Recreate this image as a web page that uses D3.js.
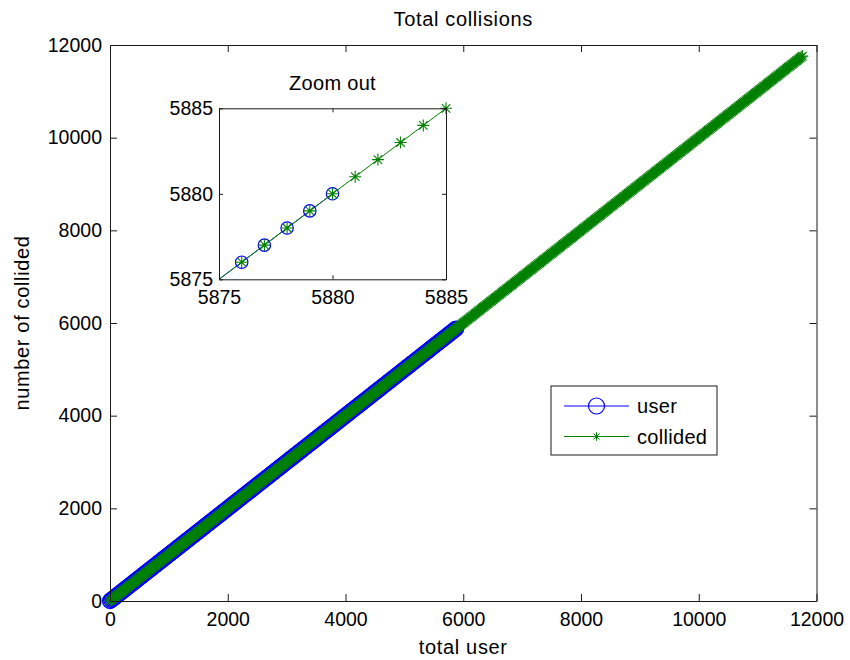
<!DOCTYPE html>
<html>
<head>
<meta charset="utf-8">
<script src="https://cdn.jsdelivr.net/npm/d3@7"></script>
<style>
  body { margin: 0; background: #fff; }
  svg { display: block; }
  text { font-family: "Liberation Sans", Arial, Helvetica, sans-serif; fill: #000; }
  .label { font-size: 20px; letter-spacing: 0.65px; }
</style>
</head>
<body>
<svg id="chart" width="850" height="660"></svg>
<script>
// ---- data ----
const chartTitle = "Total collisions";
const insetTitle = "Zoom out";
const xLabel = "total user";
const yLabel = "number of collided";
const seriesNames = ["user", "collided"];
const mainTicks = [0, 2000, 4000, 6000, 8000, 10000, 12000];
const insetTicks = [5875, 5880, 5885];

// Each run records the number of users and how many of them collided;
// every collected point has collided == total, so a count is plotted against itself.
const userCounts = [
  0,20,40,60,80,100,120,140,160,180,200,220,240,260,280,300,320,340,360,380,
  400,420,440,460,480,500,520,540,560,580,600,620,640,660,680,700,720,740,760,780,
  800,820,840,860,880,900,920,940,960,980,1000,1020,1040,1060,1080,1100,1120,1140,1160,1180,
  1200,1220,1240,1260,1280,1300,1320,1340,1360,1380,1400,1420,1440,1460,1480,1500,1520,1540,1560,1580,
  1600,1620,1640,1660,1680,1700,1720,1740,1760,1780,1800,1820,1840,1860,1880,1900,1920,1940,1960,1980,
  2000,2020,2040,2060,2080,2100,2120,2140,2160,2180,2200,2220,2240,2260,2280,2300,2320,2340,2360,2380,
  2400,2420,2440,2460,2480,2500,2520,2540,2560,2580,2600,2620,2640,2660,2680,2700,2720,2740,2760,2780,
  2800,2820,2840,2860,2880,2900,2920,2940,2960,2980,3000,3020,3040,3060,3080,3100,3120,3140,3160,3180,
  3200,3220,3240,3260,3280,3300,3320,3340,3360,3380,3400,3420,3440,3460,3480,3500,3520,3540,3560,3580,
  3600,3620,3640,3660,3680,3700,3720,3740,3760,3780,3800,3820,3840,3860,3880,3900,3920,3940,3960,3980,
  4000,4020,4040,4060,4080,4100,4120,4140,4160,4180,4200,4220,4240,4260,4280,4300,4320,4340,4360,4380,
  4400,4420,4440,4460,4480,4500,4520,4540,4560,4580,4600,4620,4640,4660,4680,4700,4720,4740,4760,4780,
  4800,4820,4840,4860,4880,4900,4920,4940,4960,4980,5000,5020,5040,5060,5080,5100,5120,5140,5160,5180,
  5200,5220,5240,5260,5280,5300,5320,5340,5360,5380,5400,5420,5440,5460,5480,5500,5520,5540,5560,5580,
  5600,5620,5640,5660,5680,5700,5720,5740,5760,5780,5800,5820,5840,5860,5880
];
const collidedCounts = [
  0,20,40,60,80,100,120,140,160,180,200,220,240,260,280,300,320,340,360,380,
  400,420,440,460,480,500,520,540,560,580,600,620,640,660,680,700,720,740,760,780,
  800,820,840,860,880,900,920,940,960,980,1000,1020,1040,1060,1080,1100,1120,1140,1160,1180,
  1200,1220,1240,1260,1280,1300,1320,1340,1360,1380,1400,1420,1440,1460,1480,1500,1520,1540,1560,1580,
  1600,1620,1640,1660,1680,1700,1720,1740,1760,1780,1800,1820,1840,1860,1880,1900,1920,1940,1960,1980,
  2000,2020,2040,2060,2080,2100,2120,2140,2160,2180,2200,2220,2240,2260,2280,2300,2320,2340,2360,2380,
  2400,2420,2440,2460,2480,2500,2520,2540,2560,2580,2600,2620,2640,2660,2680,2700,2720,2740,2760,2780,
  2800,2820,2840,2860,2880,2900,2920,2940,2960,2980,3000,3020,3040,3060,3080,3100,3120,3140,3160,3180,
  3200,3220,3240,3260,3280,3300,3320,3340,3360,3380,3400,3420,3440,3460,3480,3500,3520,3540,3560,3580,
  3600,3620,3640,3660,3680,3700,3720,3740,3760,3780,3800,3820,3840,3860,3880,3900,3920,3940,3960,3980,
  4000,4020,4040,4060,4080,4100,4120,4140,4160,4180,4200,4220,4240,4260,4280,4300,4320,4340,4360,4380,
  4400,4420,4440,4460,4480,4500,4520,4540,4560,4580,4600,4620,4640,4660,4680,4700,4720,4740,4760,4780,
  4800,4820,4840,4860,4880,4900,4920,4940,4960,4980,5000,5020,5040,5060,5080,5100,5120,5140,5160,5180,
  5200,5220,5240,5260,5280,5300,5320,5340,5360,5380,5400,5420,5440,5460,5480,5500,5520,5540,5560,5580,
  5600,5620,5640,5660,5680,5700,5720,5740,5760,5780,5800,5820,5840,5860,5880,5900,5920,5940,5960,5980,
  6000,6020,6040,6060,6080,6100,6120,6140,6160,6180,6200,6220,6240,6260,6280,6300,6320,6340,6360,6380,
  6400,6420,6440,6460,6480,6500,6520,6540,6560,6580,6600,6620,6640,6660,6680,6700,6720,6740,6760,6780,
  6800,6820,6840,6860,6880,6900,6920,6940,6960,6980,7000,7020,7040,7060,7080,7100,7120,7140,7160,7180,
  7200,7220,7240,7260,7280,7300,7320,7340,7360,7380,7400,7420,7440,7460,7480,7500,7520,7540,7560,7580,
  7600,7620,7640,7660,7680,7700,7720,7740,7760,7780,7800,7820,7840,7860,7880,7900,7920,7940,7960,7980,
  8000,8020,8040,8060,8080,8100,8120,8140,8160,8180,8200,8220,8240,8260,8280,8300,8320,8340,8360,8380,
  8400,8420,8440,8460,8480,8500,8520,8540,8560,8580,8600,8620,8640,8660,8680,8700,8720,8740,8760,8780,
  8800,8820,8840,8860,8880,8900,8920,8940,8960,8980,9000,9020,9040,9060,9080,9100,9120,9140,9160,9180,
  9200,9220,9240,9260,9280,9300,9320,9340,9360,9380,9400,9420,9440,9460,9480,9500,9520,9540,9560,9580,
  9600,9620,9640,9660,9680,9700,9720,9740,9760,9780,9800,9820,9840,9860,9880,9900,9920,9940,9960,9980,
  10000,10020,10040,10060,10080,10100,10120,10140,10160,10180,10200,10220,10240,10260,10280,10300,10320,10340,10360,10380,
  10400,10420,10440,10460,10480,10500,10520,10540,10560,10580,10600,10620,10640,10660,10680,10700,10720,10740,10760,10780,
  10800,10820,10840,10860,10880,10900,10920,10940,10960,10980,11000,11020,11040,11060,11080,11100,11120,11140,11160,11180,
  11200,11220,11240,11260,11280,11300,11320,11340,11360,11380,11400,11420,11440,11460,11480,11500,11520,11540,11560,11580,
  11600,11620,11640,11660,11680,11700,11720,11740,11760
];
// Close-up window on the last few user runs
const insetUserCounts = [5874, 5875, 5876, 5877, 5878, 5879, 5880];
const insetCollidedCounts = [5874, 5875, 5876, 5877, 5878, 5879, 5880, 5881, 5882, 5883, 5884, 5885];

// ---- styling ----
const FONT = 19.5;
const BLUE = "#0000ff";
const GREEN = "#008000";
const AXIS = "#1a1a1a";

const svg = d3.select("#chart");

// Star marker: '+' overlaid with 'x'
function starPath(cx, cy, r) {
  const p = d3.path();
  for (const a of [0, 45, 90, 135]) {
    const t = a * Math.PI / 180;
    const dx = Math.cos(t) * r, dy = Math.sin(t) * r;
    p.moveTo(cx - dx, cy - dy);
    p.lineTo(cx + dx, cy + dy);
  }
  return p.toString();
}

function styleAxis(g, fontSize) {
  g.attr("font-size", fontSize)
   .attr("font-family", '"Liberation Sans", Arial, Helvetica, sans-serif');
  g.selectAll("path.domain").attr("stroke", AXIS).attr("stroke-width", 1);
  g.selectAll(".tick line").attr("stroke", AXIS).attr("stroke-width", 1);
  g.selectAll(".tick text").attr("fill", "#000");
}

function drawFrame(g, x, y, ticks, tickLen, padX, padY, fontSize) {
  const [x0, x1] = x.range();
  const [y0, y1] = y.range(); // y0 bottom, y1 top
  g.append("g").attr("transform", `translate(0,${y0})`)
    .call(d3.axisBottom(x).tickValues(ticks).tickSizeInner(-tickLen).tickSizeOuter(0).tickPadding(padY).tickFormat(d3.format("d")))
    .call(a => styleAxis(a, fontSize));
  g.append("g").attr("transform", `translate(${x0},0)`)
    .call(d3.axisLeft(y).tickValues(ticks).tickSizeInner(-tickLen).tickSizeOuter(0).tickPadding(padX).tickFormat(d3.format("d")))
    .call(a => styleAxis(a, fontSize));
  g.append("g").attr("transform", `translate(0,${y1})`)
    .call(d3.axisTop(x).tickValues(ticks).tickSizeInner(-tickLen).tickSizeOuter(0).tickFormat(""))
    .call(a => styleAxis(a, fontSize));
  g.append("g").attr("transform", `translate(${x1},0)`)
    .call(d3.axisRight(y).tickValues(ticks).tickSizeInner(-tickLen).tickSizeOuter(0).tickFormat(""))
    .call(a => styleAxis(a, fontSize));
}

// ---- main axes ----
const x = d3.scaleLinear().domain([0, 12000]).range([110, 816.5]);
const y = d3.scaleLinear().domain([0, 12000]).range([601, 45]);
const main = svg.append("g");

const line = (sx, sy) => d3.line().x(d => sx(d)).y(d => sy(d));

// user series: line with open circles
main.append("path").datum(userCounts)
  .attr("d", line(x, y)).attr("fill", "none").attr("stroke", BLUE).attr("stroke-width", 1);
main.append("g").selectAll("circle").data(userCounts).join("circle")
  .attr("cx", d => x(d)).attr("cy", d => y(d)).attr("r", 7.4)
  .attr("fill", "none").attr("stroke", BLUE).attr("stroke-width", 1.5);

// collided series: line with star markers
main.append("path").datum(collidedCounts)
  .attr("d", line(x, y)).attr("fill", "none").attr("stroke", GREEN).attr("stroke-width", 1);
main.append("g").selectAll("path").data(collidedCounts).join("path")
  .attr("d", d => starPath(x(d), y(d), 6))
  .attr("fill", "none").attr("stroke", GREEN).attr("stroke-width", 1.1);

drawFrame(main, x, y, mainTicks, 7, 8, 11, FONT);

// titles and axis labels
svg.append("text").attr("class", "label").attr("x", (110 + 816.5) / 2).attr("y", 19)
  .attr("text-anchor", "middle").attr("dominant-baseline", "central")
  .text(chartTitle);
svg.append("text").attr("class", "label").attr("x", (110 + 816.5) / 2).attr("y", 647)
  .attr("text-anchor", "middle").attr("dominant-baseline", "central")
  .text(xLabel);
svg.append("text").attr("class", "label").attr("transform", `translate(22,${(45 + 601) / 2}) rotate(-90)`)
  .attr("text-anchor", "middle").attr("dominant-baseline", "central")
  .text(yLabel);

// ---- legend ----
const legend = svg.append("g");
legend.append("rect").attr("x", 551).attr("y", 386).attr("width", 166).attr("height", 69)
  .attr("fill", "#fff").attr("stroke", AXIS).attr("stroke-width", 1);
const legendRows = [
  { name: seriesNames[0], color: BLUE, marker: "circle", cy: 406 },
  { name: seriesNames[1], color: GREEN, marker: "star", cy: 436.5 }
];
legendRows.forEach(r => {
  legend.append("line").attr("x1", 564).attr("x2", 629).attr("y1", r.cy).attr("y2", r.cy)
    .attr("stroke", r.color).attr("stroke-width", 1);
  if (r.marker === "circle") {
    legend.append("circle").attr("cx", 596.5).attr("cy", r.cy).attr("r", 8)
      .attr("fill", "none").attr("stroke", r.color).attr("stroke-width", 1.2);
  } else {
    legend.append("path").attr("d", starPath(596.5, r.cy, 4.3))
      .attr("fill", "none").attr("stroke", r.color).attr("stroke-width", 1);
  }
  legend.append("text").attr("class", "label").attr("x", 637).attr("y", r.cy)
    .attr("dominant-baseline", "central").style("letter-spacing", "0.3px").text(r.name);
});

// ---- inset close-up ----
const ix = d3.scaleLinear().domain([5875, 5885]).range([219, 446]);
const iy = d3.scaleLinear().domain([5875, 5885]).range([279.3, 108.3]);
const inset = svg.append("g");
inset.append("rect").attr("x", 219).attr("y", 108.3).attr("width", 227).attr("height", 171)
  .attr("fill", "#fff");
svg.append("defs").append("clipPath").attr("id", "insetClip")
  .append("rect").attr("x", 219).attr("y", 108.3).attr("width", 227).attr("height", 171);

const inView = d => d > ix.domain()[0] && d <= ix.domain()[1];
const clipped = inset.append("g").attr("clip-path", "url(#insetClip)");
clipped.append("path").datum(insetUserCounts)
  .attr("d", line(ix, iy)).attr("fill", "none").attr("stroke", BLUE).attr("stroke-width", 1);
inset.append("g").selectAll("circle").data(insetUserCounts.filter(inView)).join("circle")
  .attr("cx", d => ix(d)).attr("cy", d => iy(d)).attr("r", 6.2)
  .attr("fill", "none").attr("stroke", BLUE).attr("stroke-width", 1.2);
clipped.append("path").datum(insetCollidedCounts)
  .attr("d", line(ix, iy)).attr("fill", "none").attr("stroke", GREEN).attr("stroke-width", 1);
inset.append("g").selectAll("path").data(insetCollidedCounts.filter(inView)).join("path")
  .attr("d", d => starPath(ix(d), iy(d), 6))
  .attr("fill", "none").attr("stroke", GREEN).attr("stroke-width", 1.1);

drawFrame(inset, ix, iy, insetTicks, 4, 6, 11, FONT);

svg.append("text").attr("class", "label").attr("x", (219 + 446) / 2).attr("y", 83)
  .attr("text-anchor", "middle").attr("dominant-baseline", "central")
  .style("letter-spacing", "0.3px").text(insetTitle);
</script>
</body>
</html>
